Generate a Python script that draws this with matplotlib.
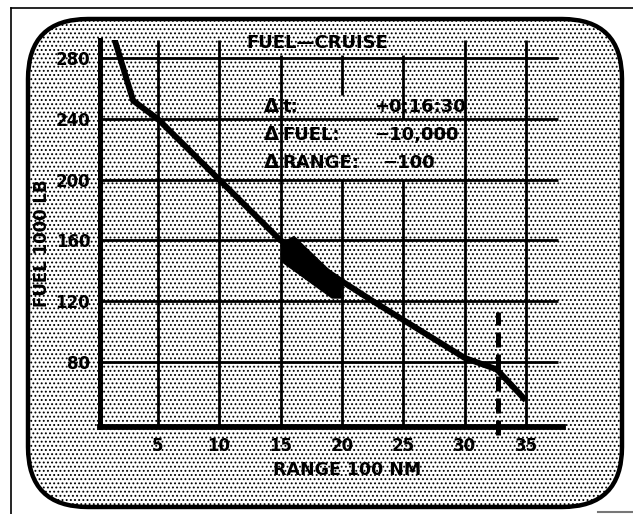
import matplotlib.pyplot as plt
from matplotlib.lines import Line2D
from matplotlib.patches import FancyBboxPatch, Polygon

# fuel-cruise curve: range (100 NM) vs fuel (1000 LB)
range_nm = [1.5, 3.0, 5, 10, 15, 20, 22.5, 25, 30, 32.6, 34.8]
fuel_lb = [292, 252, 240, 200, 160, 133, 120, 107.5, 82.5, 75, 56]

# present position marker on the curve
marker_x = [15.1, 16.1, 19.9, 20.1, 19.2, 15.1]
marker_y = [158, 162.5, 133, 122, 122, 146]

# predicted range limit (dashed)
limit_range = 32.7
limit_fuel = [32, 113]

x_ticks = [5, 10, 15, 20, 25, 30, 35]
y_ticks = [80, 120, 160, 200, 240, 280]

delta_names = ["t:", "FUEL:", "RANGE:"]
delta_values = ["+0:16:30", "\u221210,000", "\u2212100"]

plt.rcParams['hatch.color'] = 'black'
plt.rcParams['hatch.linewidth'] = 0.85
font = dict(family='DejaVu Sans', fontweight='bold', color='black')

fig = plt.figure(figsize=(6.33, 5.14), dpi=100)

# rounded display panel with halftone fill
panel = FancyBboxPatch((0.28, 0.07), 5.94, 4.88, boxstyle="round,pad=0,rounding_size=0.6",
                       transform=fig.dpi_scale_trans, facecolor='white', edgecolor='black',
                       linewidth=3.2, hatch='....', zorder=-5)
fig.patches.append(panel)

# outer frame of the page
fig.add_artist(Line2D([11 / 633, 11 / 633], [0, 1 - 8 / 514], color='black', lw=1.2))
fig.add_artist(Line2D([11 / 633, 1], [1 - 8 / 514, 1 - 8 / 514], color='black', lw=1.2))
fig.add_artist(Line2D([598 / 633, 1], [2 / 514, 2 / 514], color='#777777', lw=1.5))

ax = fig.add_axes([100 / 633, 1 - 427 / 514, 463 / 633, 387 / 514])
ax.patch.set_visible(False)
ax.set_xlim(0.3, 38)
ax.set_ylim(37, 292)

# grid, broken where the display text sits
grid_segments = {5: [(37, 292)], 10: [(37, 292)], 15: [(37, 282)], 20: [(37, 200), (256, 282)],
                 25: [(37, 200), (240, 282)], 30: [(37, 292)], 35: [(37, 292)]}
for x, segs in grid_segments.items():
    for lo, hi in segs:
        ax.plot([x, x], [lo, hi], color='black', lw=2.0, zorder=1, solid_capstyle='butt')
ax.hlines(y_ticks, 0.3, 37.6, color='black', lw=2.0, zorder=1)

ax.plot(range_nm, fuel_lb, color='black', lw=4.3, zorder=4, solid_joinstyle='round')
ax.add_patch(Polygon(list(zip(marker_x, marker_y)), closed=True, color='black', zorder=5))
ax.plot([limit_range, limit_range], limit_fuel, color='black', lw=3.6, dashes=(3, 1.4),
        zorder=5, clip_on=False)

for side in ['top', 'right']:
    ax.spines[side].set_visible(False)
ax.spines['left'].set_linewidth(3.6)
ax.spines['bottom'].set_linewidth(4.2)

ax.set_xticks(x_ticks)
ax.set_yticks(y_ticks)
ax.tick_params(length=0, pad=7)
ax.set_xticklabels([str(v) for v in x_ticks], fontsize=12, **font)
ax.set_yticklabels([str(v) for v in y_ticks], fontsize=12, **font)

ax.text(18.0, 290, "FUEL\u2014CRUISE", ha='center', va='center', fontsize=13, zorder=6, **font)
ax.text(0.533, -0.112, "RANGE 100 NM", transform=ax.transAxes, ha='center', va='center', fontsize=12.5, **font)
ax.text(-0.125, 0.475, "FUEL 1000 LB", transform=ax.transAxes, ha='center', va='center',
        rotation=90, fontsize=12, **font)

delta_rows = [248, 229.5, 211]
value_x = [22.6, 22.6, 23.3]
for row, name, value, vx in zip(delta_rows, delta_names, delta_values, value_x):
    ax.text(14.3, row, "\u0394", ha='center', va='center', fontsize=14, zorder=6, **font)
    ax.text(15.15, row, name, ha='left', va='center', fontsize=13, zorder=6, **font)
    ax.text(vx, row, value, ha='left', va='center', fontsize=13, zorder=6, **font)

plt.savefig("out.png", dpi=100)
plt.close()
